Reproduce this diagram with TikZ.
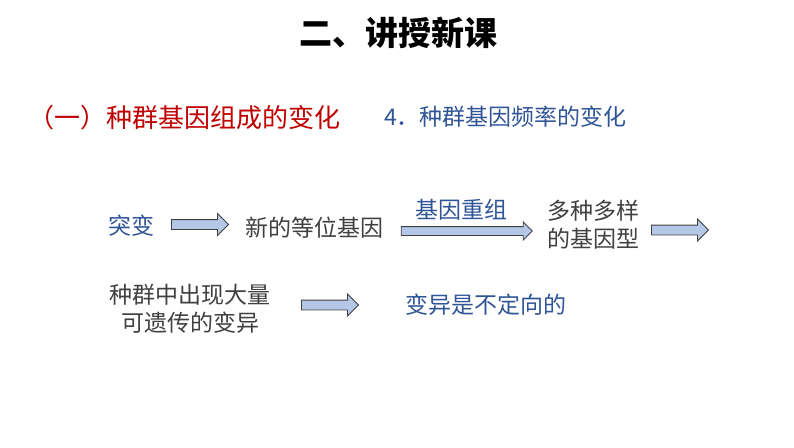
\documentclass[tikz,border=0pt]{standalone}
\usepackage{fontspec}
\setmainfont{Noto Sans CJK SC}
\usetikzlibrary{shapes.arrows}
\definecolor{darkred}{RGB}{192,0,0}
\definecolor{textblue}{RGB}{47,85,151}
\definecolor{textgrey}{RGB}{64,64,64}
\definecolor{arrowfill}{RGB}{180,199,231}

\begin{document}
\begin{tikzpicture}[x=1pt,y=-1pt,
                    word/.style={inner sep=0pt,align=center,font={\fontsize{23}{28}\selectfont}},
                    plain/.style={word,text=textgrey},
                    blue/.style={word,text=textblue},
                    block/.style={single arrow,draw=textgrey,fill=arrowfill,line width=0.9pt,
                                  inner xsep=0pt,inner ysep=4.5pt,single arrow head extend=6pt,
                                  single arrow head indent=0pt,minimum height=57pt}]
            \useasboundingbox[fill=white] (0,0) rectangle (794,447);

            \node[inner sep=0pt,font={\fontsize{33}{38}\selectfont\bfseries}] (title) at (398,33) {二、讲授新课};

            \node[inner sep=0pt,anchor=west,text=darkred,font={\fontsize{26}{30}\selectfont}] (part) at (28,118) {（一）种群基因组成的变化};
            \node[inner sep=0pt,anchor=west,text=textblue,font={\fontsize{23}{28}\selectfont}] (heading) at (384,117) {4．种群基因频率的变化};

            \node[blue] (mutation) at (131,226) {突变};
            \node[block] (arrowa) at (197.5,224.5) {};
            \node[plain] (allele) at (314,228) {新的等位基因};

            \node[blue] (recomb) at (461,210) {基因重组};
            \node[block,minimum height=131pt,inner ysep=4pt,single arrow head extend=4.5pt] (arrowb) at (464.5,231) {};
            \node[plain] (genotype) at (593,225) {多种多样\\的基因型};
            \node[block] (arrowc) at (677.5,230) {};

            \node[plain] (variation) at (190,309) {种群中出现大量\\可遗传的变异};
            \node[block] (arrowd) at (327.5,305) {};
            \node[blue] (random) at (486,305) {变异是不定向的};
        \end{tikzpicture}
\end{document}
